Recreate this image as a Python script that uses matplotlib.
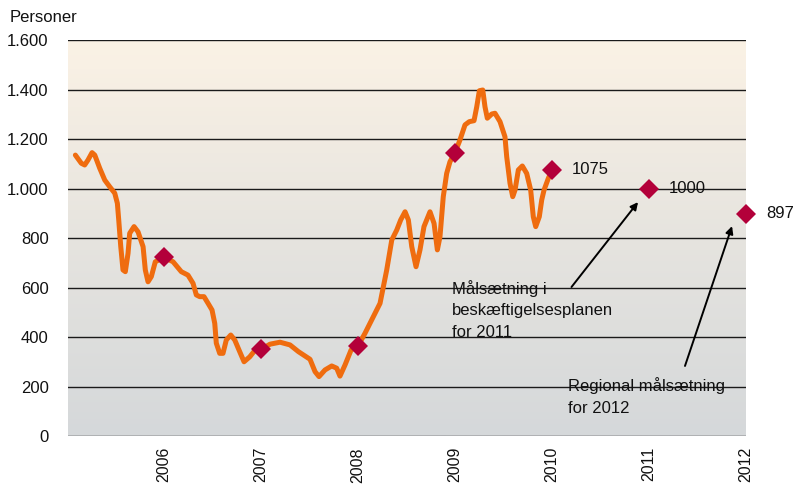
import numpy as np
import matplotlib
matplotlib.use("Agg")
import matplotlib.pyplot as plt
from matplotlib.colors import LinearSegmentedColormap

plt.rcParams['font.family'] = ['Liberation Sans', 'DejaVu Sans']

# Monthly-ish series (decimal year, persons)
line_x = [2005.086, 2005.147, 2005.182, 2005.216, 2005.258, 2005.286, 2005.337, 2005.389,
          2005.440, 2005.492, 2005.519, 2005.533, 2005.554, 2005.577, 2005.601, 2005.629,
          2005.646, 2005.691, 2005.732, 2005.784, 2005.807, 2005.835, 2005.869, 2005.910,
          2006.000, 2006.093, 2006.178, 2006.247, 2006.299, 2006.333, 2006.368, 2006.412,
          2006.454, 2006.495, 2006.523, 2006.539, 2006.574, 2006.608, 2006.642, 2006.688,
          2006.729, 2006.780, 2006.825, 2006.884, 2006.935, 2007.000, 2007.093, 2007.196,
          2007.299, 2007.385, 2007.505, 2007.557, 2007.598, 2007.660, 2007.729, 2007.780,
          2007.814, 2007.866, 2007.928, 2008.000, 2008.072, 2008.141, 2008.227, 2008.296,
          2008.348, 2008.399, 2008.440, 2008.485, 2008.519, 2008.554, 2008.598, 2008.639,
          2008.680, 2008.742, 2008.784, 2008.818, 2008.845, 2008.879, 2008.914, 2008.948,
          2009.000, 2009.051, 2009.103, 2009.147, 2009.196, 2009.224, 2009.251, 2009.286,
          2009.309, 2009.333, 2009.379, 2009.412, 2009.464, 2009.515, 2009.533, 2009.567,
          2009.595, 2009.619, 2009.653, 2009.694, 2009.739, 2009.780, 2009.807, 2009.832,
          2009.869, 2009.894, 2009.918, 2009.962, 2010.000]
line_y = [1135, 1102, 1095, 1115, 1145, 1135, 1082, 1034,
          1007, 981, 940, 873, 765, 671, 664, 738,
          819, 846, 825, 765, 671, 623, 644, 704,
          722, 704, 664, 650, 617, 570, 563, 563,
          536, 509, 455, 375, 334, 334, 388, 408,
          388, 341, 300, 320, 345, 350, 371, 379,
          368, 341, 310, 260, 240, 267, 283, 274,
          242, 287, 347, 364, 415, 469, 536, 671,
          792, 832, 873, 906, 873, 765, 684, 752,
          846, 906, 859, 752, 805, 967, 1061, 1108,
          1145, 1196, 1257, 1270, 1274, 1330, 1395, 1398,
          1330, 1284, 1301, 1304, 1270, 1209, 1128, 1021,
          967, 994, 1075, 1091, 1061, 994, 886, 846,
          886, 954, 994, 1041, 1075]

marker_years = [2006, 2007, 2008, 2009, 2010, 2011, 2012]
marker_vals = [722, 350, 364, 1145, 1075, 1000, 897]
value_labels = ["1075", "1000", "897"]
value_label_years = [2010, 2011, 2012]
value_label_vals = [1075, 1000, 897]
yticks = [0, 200, 400, 600, 800, 1000, 1200, 1400, 1600]
ytick_labels = ["0", "200", "400", "600", "800", "1.000", "1.200", "1.400", "1.600"]
xticks = [2006, 2007, 2008, 2009, 2010, 2011, 2012]

fig = plt.figure(figsize=(7.94, 4.86), dpi=100)
ax = fig.add_axes([68/794, 1-436/486, (746-68)/794, (436-40)/486])

xmin, xmax = 2005.01, 2012.0
ax.set_xlim(xmin, xmax)
ax.set_ylim(0, 1600)

# background gradient
cmap = LinearSegmentedColormap.from_list("bg", ["#D5D8DA", "#E6E4DF", "#FBF2E5"])
grad = np.linspace(0, 1, 256).reshape(-1, 1)
ax.imshow(grad, aspect='auto', cmap=cmap, origin='lower',
          extent=[xmin, xmax, 0, 1600], zorder=0)

for yv in yticks:
    ax.axhline(yv, color='#1a1a1a', lw=1.0, zorder=1)

ax.plot(line_x, line_y, color='#EF6C0F', lw=3.6, solid_capstyle='round',
        solid_joinstyle='round', zorder=3)
ax.plot(marker_years, marker_vals, linestyle='none', marker='D', ms=9.8,
        color='#B3003A', markeredgewidth=0, zorder=4, clip_on=False)

for lab, xv, yv in zip(value_labels, value_label_years, value_label_vals):
    ax.annotate(lab, (xv, yv), xytext=(20, 0), textcoords='offset pixels',
                va='center', ha='left', fontsize=12, color='#111111')

ax.text(2008.969, 509, "Målsætning i\nbeskæftigelsesplanen\nfor 2011", fontsize=12,
        va='center', ha='left', linespacing=1.55, color='#111111', zorder=5)
ax.text(2010.165, 160, "Regional målsætning\nfor 2012", fontsize=12,
        va='center', ha='left', linespacing=1.55, color='#111111', zorder=5)

ax.annotate("", xy=(2010.887, 945), xytext=(2010.201, 602),
            arrowprops=dict(arrowstyle='-|>', color='black', lw=1.4, mutation_scale=11,
                            shrinkA=0, shrinkB=0), zorder=5)
ax.annotate("", xy=(2011.856, 848), xytext=(2011.371, 283),
            arrowprops=dict(arrowstyle='-|>', color='black', lw=1.4, mutation_scale=11,
                            shrinkA=0, shrinkB=0), zorder=5)

ax.set_yticks(yticks)
ax.set_yticklabels(ytick_labels, fontsize=12)
ax.set_xticks(xticks)
ax.set_xticklabels([str(x) for x in xticks], rotation=90, fontsize=11.5, va='top')
ax.tick_params(axis='both', length=0, colors='#111111')
ax.tick_params(axis='y', pad=14)
ax.tick_params(axis='x', pad=8)
for s in ax.spines.values():
    s.set_visible(False)

fig.text(10/794, 1-18/486, "Personer", fontsize=12, va='center', ha='left', color='#111111')

fig.savefig("out.png", dpi=100)
